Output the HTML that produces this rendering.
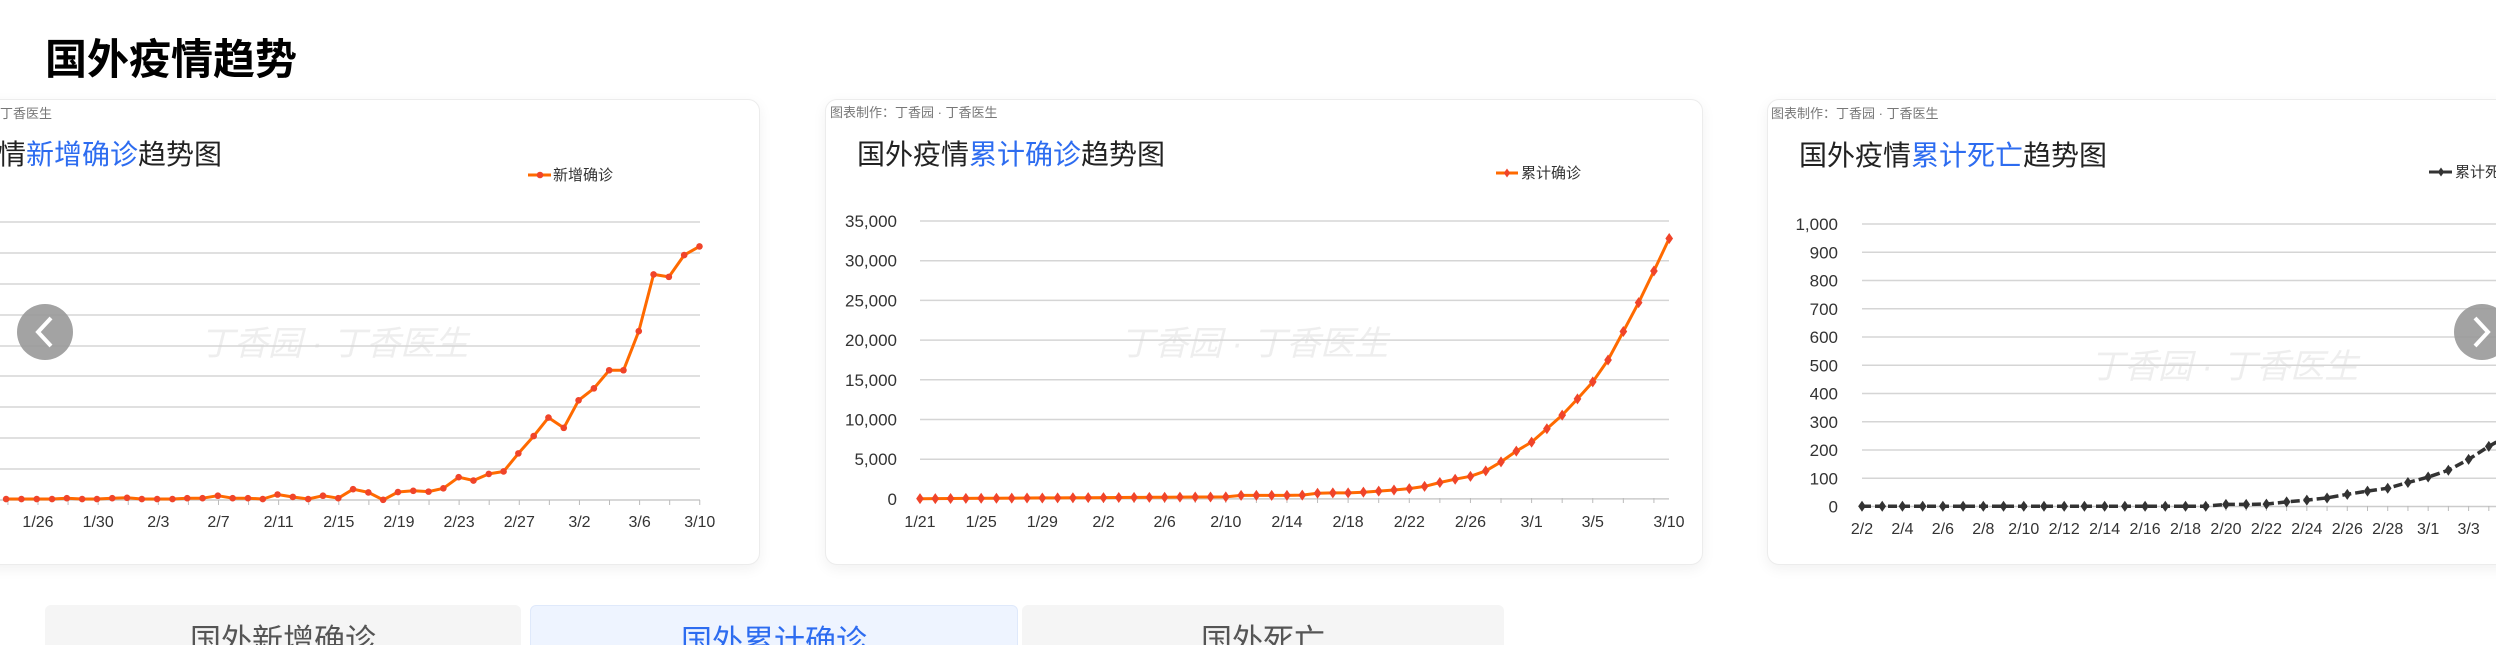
<!DOCTYPE html>
<html><head><meta charset="utf-8">
<style>
html,body{margin:0;padding:0;background:#fff;width:2496px;height:645px;overflow:hidden;position:relative;font-family:"Liberation Sans","Noto Sans CJK SC",sans-serif;}
.card{position:absolute;background:#fff;border:1px solid #ececec;border-radius:12px;box-shadow:0 4px 14px rgba(0,0,0,0.06);}
.tab{position:absolute;top:605px;height:60px;background:#f5f5f5;border-radius:6px;color:#555;font-size:31px;text-align:center;line-height:72px;}
h1{position:absolute;left:45px;top:26px;margin:0;font-size:42px;font-weight:bold;color:#000;}
svg{position:absolute;left:0;top:0;}
</style></head><body>
<h1>国外疫情趋势</h1>
<div class="card" style="left:-20px;top:99px;width:778px;height:464px;"></div>
<div class="card" style="left:825px;top:99px;width:876px;height:464px;"></div>
<div class="card" style="left:1767px;top:99px;width:760px;height:464px;"></div>
<div class="tab" style="left:45px;width:476px;">国外新增确诊</div>
<div class="tab" style="left:530px;width:486px;background:#eef4ff;color:#2d6cf0;border:1px solid #dfe9fb;">国外累计确诊</div>
<div class="tab" style="left:1022px;width:482px;">国外死亡</div>
<svg id="s" width="2496" height="645" xmlns="http://www.w3.org/2000/svg" font-family="Liberation Sans, Noto Sans CJK SC, sans-serif">
<g font-size="13" fill="#777">
<text x="0" y="118">丁香医生</text>
<text x="830" y="117">图表制作：丁香园 ·  丁香医生</text>
<text x="1771" y="118">图表制作：丁香园 ·  丁香医生</text>
</g>
<g font-size="28" fill="#222">
<text x="-2" y="164">情<tspan fill="#2d6cf0">新增确诊</tspan>趋势图</text>
<text x="857" y="164">国外疫情<tspan fill="#2d6cf0">累计确诊</tspan>趋势图</text>
<text x="1799" y="165">国外疫情<tspan fill="#2d6cf0">累计死亡</tspan>趋势图</text>
</g>
<g font-size="34" fill="#eee" font-style="italic">
<text x="200" y="355">丁香园 · 丁香医生</text>
<text x="1120" y="355">丁香园 · 丁香医生</text>
<text x="2090" y="378">丁香园 · 丁香医生</text>
</g>
<g id="g"></g>
<circle cx="45" cy="332" r="28" fill="#999" opacity="0.9"/>
<path d="M51 318 L38 332 L51 346" stroke="#fff" stroke-width="4" fill="none"/>
<circle cx="2482" cy="332" r="28" fill="#999" opacity="0.9"/>
<path d="M2475 318 L2488 332 L2475 346" stroke="#fff" stroke-width="4" fill="none"/>
</svg>
<script>
var g=document.getElementById('g'),h='';
function ln(x1,y1,x2,y2,c,w){h+='<line x1="'+x1+'" y1="'+y1+'" x2="'+x2+'" y2="'+y2+'" stroke="'+c+'" stroke-width="'+(w||1.5)+'"/>';}
function tx(x,y,t,a,s,c){h+='<text x="'+x+'" y="'+y+'" text-anchor="'+(a||'middle')+'" font-size="'+(s||16)+'" fill="'+(c||'#333')+'">'+t+'</text>';}
function dia(x,y,r,c){h+='<path d="M'+x+' '+(y-r)+' L'+(x+r*0.7)+' '+y+' L'+x+' '+(y+r)+' L'+(x-r*0.7)+' '+y+'Z" fill="'+c+'"/>';}
function poly(p,c,w){h+='<polyline points="'+p.map(function(q){return q[0].toFixed(1)+','+q[1].toFixed(1)}).join(' ')+'" fill="none" stroke="'+c+'" stroke-width="'+w+'" stroke-linejoin="round"/>';}
// chart1
var gy=[222,253,284,315,346,376,407,438,469];
gy.forEach(function(y){ln(0,y,700,y,'#d5d5d5',1.5);});
ln(0,500,700,500,'#ccc',1.5);
var lab1=['1/26','1/30','2/3','2/7','2/11','2/15','2/19','2/23','2/27','3/2','3/6','3/10'];
for(var k=0;k<12;k++){var x=38+k*60.16;tx(x,527,lab1[k]);}
for(var i=0;i<50;i++){var x=38+(i-5)*15.04;if(x>=0&&i%2==1)ln(x,500,x,505,'#bbb',1);}
var z1=[[12,1213],[42,1213],[72,1213],[102,1213],[131,1211],[161,1213],[190,1213],[220,1211],[249,1210],[278,1213],[308,1213],[338,1213],[367,1211],[397,1211],[427,1205],[456,1211],[486,1211],[515,1213],[544,1202],[574,1208],[604,1213],[633,1205],[663,1211],[692,1189],[722,1197],[751,1215],[780,1196],[810,1193],[840,1195],[869,1187],[899,1160],[928,1168],[958,1152],[987,1146],[1016,1102],[1046,1060],[1075,1015],[1105,1040],[1134,973],[1164,944],[1194,900],[1222,900],[1252,805],[1281,667],[1311,673],[1341,620],[1371,599]];
var p1=z1.map(function(q){return [q[0]*0.5102,q[1]*0.4114];});
poly(p1,'#ff6a00',3);
p1.forEach(function(q){h+='<circle cx="'+q[0]+'" cy="'+q[1]+'" r="3.3" fill="#f0442a"/>';});
ln(528,175,551,175,'#ff6a00',3);h+='<circle cx="540" cy="175" r="3.3" fill="#f0442a"/>';
tx(553,180,'新增确诊','start',15,'#333');
// chart2
var vals=['35,000','30,000','25,000','20,000','15,000','10,000','5,000','0'];
for(var k=0;k<8;k++){var y=221+k*39.7;ln(920,y,1669,y,k==7?'#ccc':'#d5d5d5',1.5);tx(897,y+6,vals[k],'end',17);}
for(var i=0;i<50;i++){var x=920+i*15.29;if(i%2==0)ln(x,498,x,503,'#bbb',1);}
var lab2=['1/21','1/25','1/29','2/2','2/6','2/10','2/14','2/18','2/22','2/26','3/1','3/5'];
for(var k=0;k<12;k++)tx(920+k*4*15.29,527,lab2[k]);
tx(1669,527,'3/10');
var z2=[];for(var i=0;i<=20;i++)z2.push(1162-5*i/20);
z2=z2.concat([1153,1153,1153,1153,1152,1147,1146,1146,1144,1141,1138,1134,1128,1117,1108,1100,1085,1060,1030,1005,968,930,885,838,777,698,618,530,440]);
var p2=z2.map(function(y,i){return [920+i*15.29,80+y*0.3603];});
poly(p2,'#ff6a00',3);
p2.forEach(function(q){dia(q[0],q[1],5.5,'#f0442a');});
ln(1496,173,1518,173,'#ff6a00',3);dia(1507,173,4.5,'#f0442a');
tx(1521,178,'累计确诊','start',15,'#333');
// chart3
var v3=['1,000','900','800','700','600','500','400','300','200','100','0'];
for(var k=0;k<11;k++){var y=224+k*28.25;ln(1862,y,2496,y,k==10?'#ccc':'#d5d5d5',1.5);tx(1838,y+6,v3[k],'end',17);}
for(var i=0;i<32;i++){var x=1862+i*20.22;ln(x,506,x,511,'#bbb',1);}
var lab3=['2/2','2/4','2/6','2/8','2/10','2/12','2/14','2/16','2/18','2/20','2/22','2/24','2/26','2/28','3/1','3/3'];
for(var k=0;k<16;k++)tx(1862+k*2*20.22,534,lab3[k]);
var z3=[];for(var i=0;i<18;i++)z3.push(1183);
z3=z3.concat([1178,1178,1177,1171,1166,1160,1150,1141,1133,1117,1102,1083,1053,1017,985]);
var p3=z3.map(function(y,i){return [1862+i*20.22,80+y*0.3603];});
h+='<polyline points="'+p3.map(function(q){return q[0].toFixed(1)+','+q[1].toFixed(1)}).join(' ')+'" fill="none" stroke="#333" stroke-width="3.5" stroke-dasharray="9,4"/>';
p3.forEach(function(q){dia(q[0],q[1],5.5,'#333');});
ln(2429,172,2452,172,'#333',3);dia(2441,172,4.5,'#333');
tx(2455,177,'累计死亡','start',15,'#333');
g.innerHTML=h;
</script>
</body></html>
